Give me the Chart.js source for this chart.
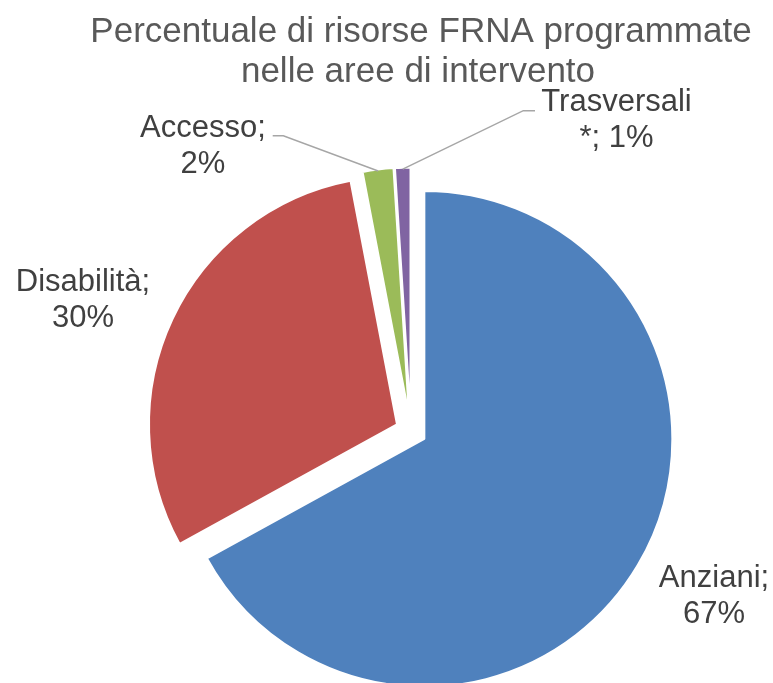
<!DOCTYPE html>
<html>
<head>
<meta charset="utf-8">
<script src="https://cdn.jsdelivr.net/npm/chart.js@4/dist/chart.umd.min.js"></script>
<style>
  html, body { margin: 0; padding: 0; background: #fff; }
  #wrap { width: 773px; height: 683px; position: relative; }
</style>
</head>
<body>
<div id="wrap"><canvas id="c"></canvas></div>
<script>
// ---- data ----
const categories = ['Anziani', 'Disabilità', 'Accesso', 'Trasversali *'];
const values = [67, 30, 2, 1];
const titleLines = ['Percentuale di risorse FRNA programmate', 'nelle aree di intervento'];

// ---- style ----
const sliceColors = ['#4F81BD', '#C0504D', '#9BBB59', '#8064A2'];
const FONT = '"Liberation Sans", Arial, Helvetica, sans-serif';
const EXPLODE = 15.5;
const labelLayout = [
  { x: 714, y: 587 },
  { x: 83, y: 290.7 },
  { x: 203, y: 136.7, leader: [[272.7, 135.7], [283.3, 135.7]] },
  { x: 616.5, y: 110.7, leader: [[535, 110.7], [523.3, 110.7]] }
];

const explodePlugin = {
  id: 'explode',
  afterDatasetUpdate(chart, args) {
    args.meta.data.forEach(arc => {
      const mid = (arc.startAngle + arc.endAngle) / 2;
      arc.x += Math.cos(mid) * EXPLODE;
      arc.y += Math.sin(mid) * EXPLODE;
    });
  }
};

function wrapText(ctx, text, maxW) {
  const words = text.split(' ');
  const lines = [];
  let cur = '';
  words.forEach(w => {
    const test = cur ? cur + ' ' + w : w;
    if (ctx.measureText(test).width > maxW && cur) { lines.push(cur); cur = w; }
    else cur = test;
  });
  if (cur) lines.push(cur);
  return lines;
}

const textPlugin = {
  id: 'texts',
  afterDraw(chart) {
    const ctx = chart.ctx;
    ctx.save();
    // title
    ctx.fillStyle = '#595959';
    ctx.font = '35px ' + FONT;
    ctx.textAlign = 'center';
    ctx.textBaseline = 'alphabetic';
    ctx.fillText(titleLines[0], 421, 42);
    ctx.fillText(titleLines[1], 418, 82);

    // data labels
    const meta = chart.getDatasetMeta(0);
    ctx.font = '31px ' + FONT;
    meta.data.forEach((arc, i) => {
      const L = labelLayout[i];
      if (L.leader) {
        const mid = (arc.startAngle + arc.endAngle) / 2;
        const r = arc.outerRadius - 1.5;
        ctx.strokeStyle = '#A6A6A6';
        ctx.lineWidth = 1.5;
        ctx.beginPath();
        ctx.moveTo(L.leader[0][0], L.leader[0][1]);
        ctx.lineTo(L.leader[1][0], L.leader[1][1]);
        ctx.lineTo(arc.x + Math.cos(mid) * r, arc.y + Math.sin(mid) * r);
        ctx.stroke();
      }
      ctx.fillStyle = '#404040';
      const text = categories[i] + '; ' + values[i] + '%';
      const lines = wrapText(ctx, text, 160);
      lines.forEach((ln, k) => ctx.fillText(ln, L.x, L.y + k * 36));
    });
    ctx.restore();
  }
};

new Chart(document.getElementById('c'), {
  type: 'pie',
  data: {
    labels: categories,
    datasets: [{
      data: values,
      backgroundColor: sliceColors,
      borderColor: '#ffffff',
      borderWidth: 2,
      radius: 248,
      clip: false
    }]
  },
  options: {
    responsive: true,
    maintainAspectRatio: false,
    animation: false,
    events: [],
    layout: { padding: { left: 49, right: 0, top: 179, bottom: 0 } },
    plugins: {
      legend: { display: false },
      title: { display: false },
      tooltip: { enabled: false }
    }
  },
  plugins: [explodePlugin, textPlugin]
});
</script>
</body>
</html>
